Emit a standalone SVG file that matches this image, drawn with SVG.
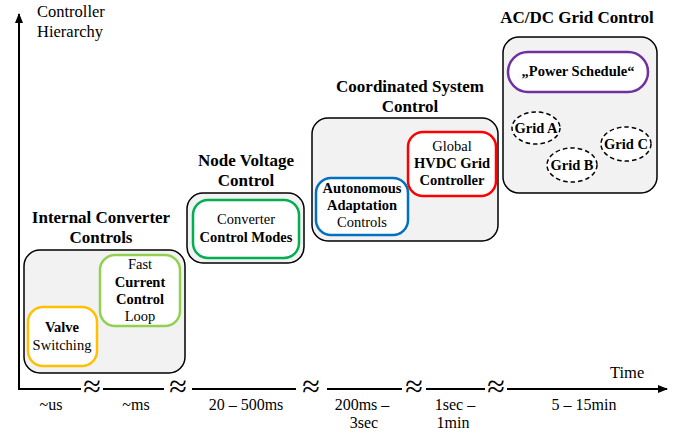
<svg xmlns="http://www.w3.org/2000/svg" width="683" height="438" viewBox="0 0 683 438" font-family="'Liberation Serif', 'Times New Roman', Times, serif">
<defs>
<marker id="ah" markerWidth="10" markerHeight="8" refX="9" refY="4" orient="auto" markerUnits="userSpaceOnUse">
<path d="M0,0 L10,4 L0,8 Z" fill="#000"/>
</marker>
<style>
text{font-family:'Liberation Serif','Times New Roman',Times,serif;fill:#000;}
.t{font-size:14.5px;text-anchor:middle;}
.l{font-size:16px;text-anchor:middle;}
.b{font-weight:bold;}
.h{font-size:17px;font-weight:bold;text-anchor:middle;}
.ax{font-size:16.5px;}
.ct{fill:#F2F2F2;stroke:#000;stroke-width:1.5;}
.in{fill:#fff;stroke-width:2.5;}
.g{fill:#fff;stroke:#000;stroke-width:1.5;stroke-dasharray:4.5 3;}
.sq{font-size:32px;text-anchor:middle;}
.ln{stroke:#000;stroke-width:2;fill:none;}
</style>
</defs>
<g id="axes">
<line class="ln" x1="19" y1="390" x2="19" y2="14" marker-end="url(#ah)"/>
<polyline class="ln" points="81,389 19,389 19,390"/>
<line class="ln" x1="103" y1="389" x2="164" y2="389"/>
<line class="ln" x1="192" y1="389" x2="296" y2="389"/>
<line class="ln" x1="327" y1="389" x2="402" y2="389"/>
<line class="ln" x1="426" y1="389" x2="485" y2="389"/>
<line class="ln" x1="507" y1="389" x2="667" y2="389" marker-end="url(#ah)"/>
<text class="sq" x="92" y="397">≈</text>
<text class="sq" x="178" y="397">≈</text>
<text class="sq" x="311" y="397">≈</text>
<text class="sq" x="414" y="397">≈</text>
<text class="sq" x="496" y="397">≈</text>
<text class="ax" x="37" y="17">Controller</text>
<text class="ax" x="37" y="37">Hierarchy</text>
<text class="ax" x="610" y="378">Time</text>
<text class="l" x="51" y="410">~us</text>
<text class="l" x="136" y="410">~ms</text>
<text class="l" x="246" y="410">20 – 500ms</text>
<text class="l" x="362" y="410">200ms –</text>
<text class="l" x="364" y="428">3sec</text>
<text class="l" x="455" y="410">1sec –</text>
<text class="l" x="453" y="428">1min</text>
<text class="l" x="584" y="410">5 – 15min</text>
</g>
<g id="internal-converter-controls">
<text class="h" x="101" y="223">Internal Converter</text>
<text class="h" x="101" y="243">Controls</text>
<rect class="ct" x="24" y="250" width="161" height="123" rx="16"/>
</g>
<g id="valve-switching">
<rect class="in" x="28" y="307" width="69" height="59" rx="15" stroke="#FFC000"/>
<text class="t b" x="62" y="332">Valve</text>
<text class="t" x="62" y="350">Switching</text>
</g>
<g id="fast-current-control-loop">
<rect class="in" x="100" y="255" width="80" height="71" rx="15" stroke="#92D050"/>
<text class="t" x="140" y="269">Fast</text>
<text class="t b" x="140" y="287">Current</text>
<text class="t b" x="140" y="304">Control</text>
<text class="t" x="140" y="321">Loop</text>
</g>
<g id="node-voltage-control">
<text class="h" x="246" y="166">Node Voltage</text>
<text class="h" x="246" y="186">Control</text>
<rect class="ct" x="187" y="193" width="117" height="70" rx="16"/>
</g>
<g id="converter-control-modes">
<rect class="in" x="193" y="200" width="106" height="58" rx="15" stroke="#00B050"/>
<text class="t" x="246" y="224">Converter</text>
<text class="t b" x="246" y="242">Control Modes</text>
</g>
<g id="coordinated-system-control">
<text class="h" x="410" y="92">Coordinated System</text>
<text class="h" x="410" y="112">Control</text>
<rect class="ct" x="312" y="118" width="186" height="123" rx="16"/>
</g>
<g id="autonomous-adaptation-controls">
<rect class="in" x="316" y="178" width="92" height="57" rx="15" stroke="#0070C0"/>
<text class="t b" x="362" y="193">Autonomous</text>
<text class="t b" x="362" y="210">Adaptation</text>
<text class="t" x="362" y="227">Controls</text>
</g>
<g id="global-hvdc-grid-controller">
<rect class="in" x="408" y="132" width="88" height="64" rx="15" stroke="#FF0000"/>
<text class="t" x="452" y="151">Global</text>
<text class="t b" x="452" y="168">HVDC Grid</text>
<text class="t b" x="452" y="185">Controller</text>
</g>
<g id="ac-dc-grid-control">
<text class="h" x="577" y="23">AC/DC Grid Control</text>
<rect class="ct" x="503" y="37" width="154" height="156" rx="16"/>
</g>
<g id="power-schedule">
<rect class="in" x="508" y="52" width="140" height="40" rx="20" stroke="#7030A0"/>
<text class="t b" x="578" y="76">„Power Schedule“</text>
</g>
<g id="grid-a">
<ellipse class="g" cx="536" cy="128" rx="24" ry="16"/>
<text class="t b" x="536" y="133">Grid A</text>
</g>
<g id="grid-b">
<ellipse class="g" cx="572" cy="165" rx="25" ry="17"/>
<text class="t b" x="572" y="170">Grid B</text>
</g>
<g id="grid-c">
<ellipse class="g" cx="626" cy="144" rx="25" ry="17"/>
<text class="t b" x="626" y="149">Grid C</text>
</g>
<g id="connectors"></g>
</svg>
